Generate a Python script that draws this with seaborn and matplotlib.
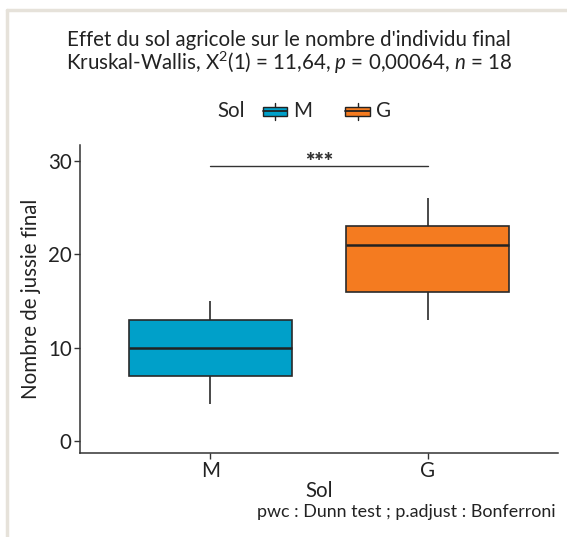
import matplotlib
matplotlib.use("Agg")
import matplotlib.pyplot as plt
import seaborn as sns
import pandas as pd
from matplotlib.lines import Line2D
from matplotlib.patches import Rectangle
from matplotlib.legend_handler import HandlerBase
from matplotlib.offsetbox import HPacker

sol_m = [4, 6, 7, 9, 10, 11, 13, 14, 15]
sol_g = [13, 15, 16, 19, 21, 22, 23, 25, 26]
groups = ["M", "G"]
colors = ["#00A0C9", "#F47B20"]
y_ticks = [0, 10, 20, 30]

title = "Effet du sol agricole sur le nombre d'individu final"
subtitle = r"Kruskal-Wallis, X$^2$(1) = 11,64, $\it{p}$ = 0,00064, $\it{n}$ = 18"
caption = "pwc : Dunn test ; p.adjust : Bonferroni"
signif = "***"
signif_y = 29.4

df = pd.DataFrame({
    "Sol": ["M"] * len(sol_m) + ["G"] * len(sol_g),
    "value": sol_m + sol_g,
})

FS = 14.8


class BoxKey(HandlerBase):
    def create_artists(self, legend, orig, xd, yd, w, h, fs, trans):
        r = Rectangle((xd, yd + h * 0.15), w, h * 0.7, facecolor=orig.get_facecolor(),
                      edgecolor="#222222", lw=1, transform=trans)
        v = Line2D([xd + w / 2] * 2, [yd - h * 0.15, yd + h * 1.15], color="#222222",
                   lw=1, transform=trans)
        m = Line2D([xd, xd + w], [yd + h * 0.5] * 2, color="#222222", lw=1.3,
                   transform=trans)
        return [v, r, m]


sns.set_style("white")
plt.rcParams["font.family"] = ["Lato", "DejaVu Sans"]
plt.rcParams["mathtext.fontset"] = "custom"
plt.rcParams["mathtext.it"] = "Lato:italic"
plt.rcParams["mathtext.rm"] = "Lato"

fig = plt.figure(figsize=(5.67, 5.37), dpi=100)
ax = fig.add_axes([80 / 567, 84 / 537, 478 / 567, 308 / 537])

sns.boxplot(data=df, x="Sol", y="value", hue="Sol", order=groups, hue_order=groups,
            palette=colors, saturation=1, width=0.75, legend=False, ax=ax, whis=1.5,
            linecolor="#2a2a2a", linewidth=1.2, showcaps=False,
            medianprops={"linewidth": 1.8, "color": "#222222"})

ax.set_xlim(-0.6, 1.6)
ax.set_ylim(-1.3, 31.7)
ax.set_yticks(y_ticks)
ax.set_xlabel("Sol", fontsize=FS, color="#222222", labelpad=0)
ax.set_ylabel("Nombre de jussie final", fontsize=FS, color="#222222", labelpad=5)
ax.tick_params(axis="both", labelsize=FS, colors="#333333", length=4, width=1,
               direction="out", left=True, bottom=True, pad=2)
for lab in ax.get_xticklabels() + ax.get_yticklabels():
    lab.set_color("#222222")
for s in ["top", "right"]:
    ax.spines[s].set_visible(False)
for s in ["left", "bottom"]:
    ax.spines[s].set_color("#333333")
    ax.spines[s].set_linewidth(1.1)

# significance bracket
ax.plot([0, 1], [signif_y, signif_y], color="#333333", lw=1)
ax.text(0.5, signif_y + 0.45, signif, ha="center", va="center", fontsize=16,
        fontweight="heavy", color="#333333")

# titles and caption
fig.text(289 / 567, 1 - 40 / 537, title, ha="center", va="center", fontsize=FS,
         color="#222222")
fig.text(289 / 567, 1 - 63 / 537, subtitle, ha="center", va="center", fontsize=FS,
         color="#222222")
fig.text(556 / 567, 1 - 512 / 537, caption, ha="right", va="center", fontsize=12.9,
         color="#222222")

handles = [Rectangle((0, 0), 1, 1, facecolor=c) for c in colors]
leg = fig.legend(handles, groups, loc="center", bbox_to_anchor=(304 / 567, 1 - 111 / 537),
                 ncol=2, frameon=False, fontsize=FS, title="Sol", handler_map={Rectangle: BoxKey()},
                 handlelength=1.2, handleheight=0.6, handletextpad=0.3, columnspacing=1.6)
leg.get_title().set_fontsize(FS)
# put the legend title inline
box = leg._legend_box
box._children = [HPacker(children=box.get_children(), align="center", pad=0, sep=13)]

# light frame of the page
fig.add_artist(Line2D([7 / 567, 7 / 567], [0, 1 - 10 / 537], color="#E6E2DA", lw=2.5,
                      transform=fig.transFigure))
fig.add_artist(Line2D([7 / 567, 1], [1 - 10 / 537, 1 - 10 / 537], color="#E6E2DA", lw=2.5,
                      transform=fig.transFigure))

fig.savefig("out.png", dpi=100)
plt.close(fig)
